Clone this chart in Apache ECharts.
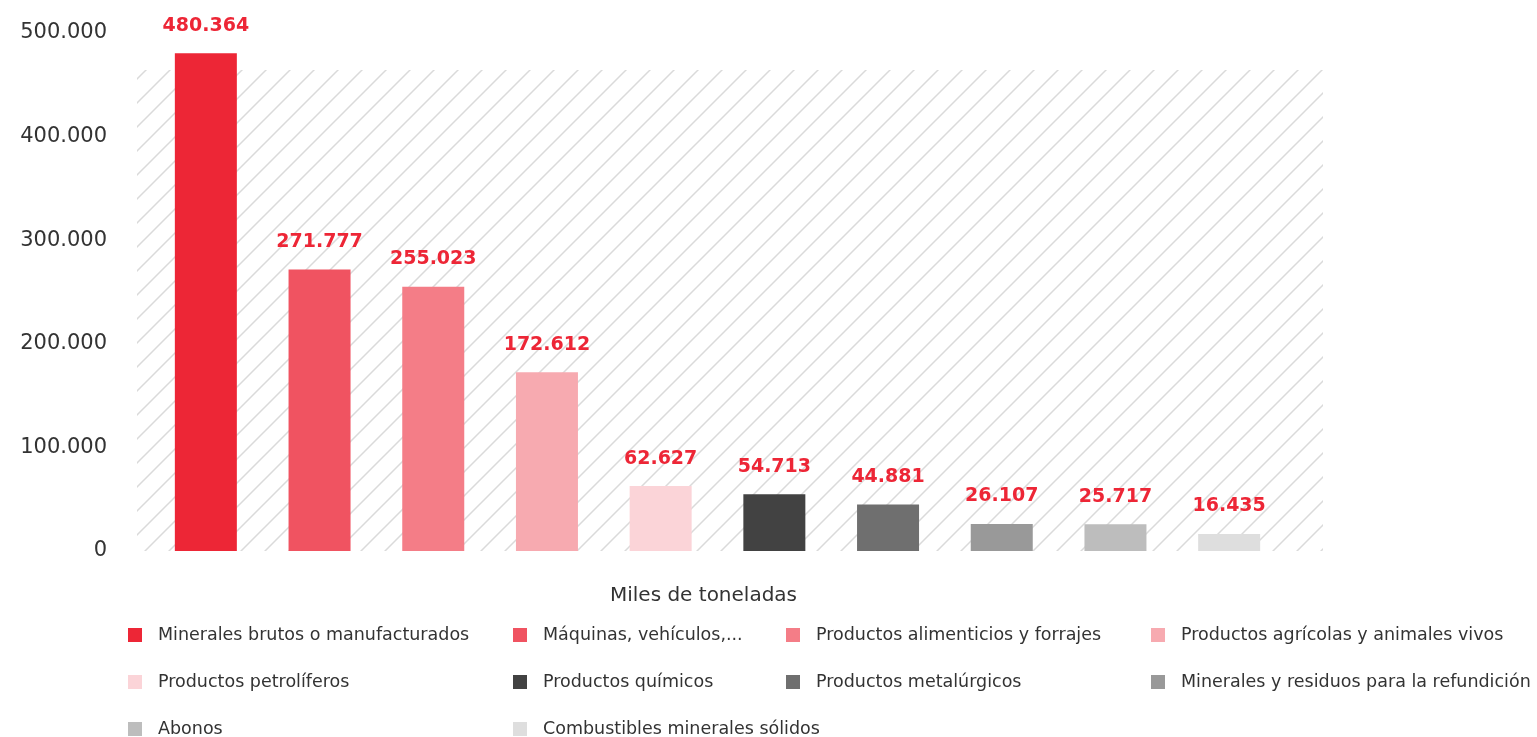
<!DOCTYPE html>
<html>
<head>
<meta charset="utf-8">
<script src="https://cdn.jsdelivr.net/npm/echarts@6/dist/echarts.min.js"></script>
<style>
  html, body { margin: 0; padding: 0; background: #fff; }
  #chart { width: 1537px; height: 737px; }
</style>
</head>
<body>
<div id="chart"></div>
<script>
// 数据
const categories = [
  'Minerales brutos o manufacturados',
  'Máquinas, vehículos,...',
  'Productos alimenticios y forrajes',
  'Productos agrícolas y animales vivos',
  'Productos petrolíferos',
  'Productos químicos',
  'Productos metalúrgicos',
  'Minerales y residuos para la refundición',
  'Abonos',
  'Combustibles minerales sólidos',
]
const values = [480364, 271777, 255023, 172612, 62627, 54713, 44881, 26107, 25717, 16435]
const colors = ['#ed2636', '#f05361', '#f47d87', '#f7aab0', '#fbd4d8', '#424242', '#6f6f6f', '#999999', '#bdbdbd', '#dedede']
const yTicks = [0, 100000, 200000, 300000, 400000, 500000]

// 千位分隔用点
const fmt = v => String(v).replace(/\B(?=(\d{3})+(?!\d))/g, '.')

// 斜线背景纹理
function hatch() {
  const c = document.createElement('canvas')
  c.width = 24
  c.height = 24
  const ctx = c.getContext('2d')
  ctx.strokeStyle = '#dadada'
  ctx.lineWidth = 1.5
  ctx.beginPath()
  ctx.moveTo(0, 24); ctx.lineTo(24, 0)
  ctx.moveTo(-4, 4); ctx.lineTo(4, -4)
  ctx.moveTo(20, 28); ctx.lineTo(28, 20)
  ctx.stroke()
  return c
}

const font = 'DejaVu Sans'
const myChart = echarts.init(document.querySelector('#chart'))

// 每个类别一个系列，用 stack 让柱子居中
const series = categories.map((name, i) => ({
  name,
  type: 'bar',
  stack: 'all',
  barWidth: 62,
  itemStyle: { color: colors[i] },
  label: {
    show: true,
    position: 'top',
    distance: 18,
    color: '#ed2636',
    fontFamily: font,
    fontWeight: 'bold',
    fontSize: 19,
    formatter: p => fmt(p.value),
  },
  data: categories.map((c, j) => (j === i ? values[i] : '-')),
}))

// 图例分四列
const columns = [[0, 4, 8], [1, 5, 9], [2, 6], [3, 7]]
const colLeft = [123, 508, 781, 1146]
const legend = columns.map((col, k) => ({
  orient: 'vertical',
  left: colLeft[k],
  top: 621,
  height: 160,
  itemWidth: 14,
  itemHeight: 14,
  itemGap: 29,
  icon: 'rect',
  selectedMode: false,
  textStyle: { fontFamily: font, fontSize: 17.5, color: '#333', padding: [0, 0, 0, 11] },
  data: col.map(i => categories[i]),
}))

const option = {
  animation: false,
  grid: { left: 149, right: 251, top: 33, bottom: 186 },
  xAxis: {
    type: 'category',
    data: categories,
    axisLine: { show: false },
    axisTick: { show: false },
    axisLabel: { show: false },
    name: 'Miles de toneladas',
    nameLocation: 'middle',
    nameGap: 35,
    nameTextStyle: { fontFamily: font, fontSize: 20, color: '#333', padding: [0, 28, 0, 0] },
  },
  yAxis: {
    type: 'value',
    min: yTicks[0],
    max: yTicks[yTicks.length - 1],
    interval: yTicks[1] - yTicks[0],
    splitLine: { show: false },
    axisLine: { show: false },
    axisTick: { show: false },
    axisLabel: {
      margin: 42,
      padding: [6, 0, 0, 0],
      fontFamily: font,
      fontSize: 21,
      color: '#333',
      formatter: v => fmt(v),
    },
  },
  legend,
  graphic: [
    {
      type: 'rect',
      z: -10,
      silent: true,
      shape: { x: 137, y: 70, width: 1186, height: 481 },
      style: { fill: { image: hatch(), repeat: 'repeat' } },
    },
  ],
  series,
}
myChart.setOption(option)
</script>
</body>
</html>
